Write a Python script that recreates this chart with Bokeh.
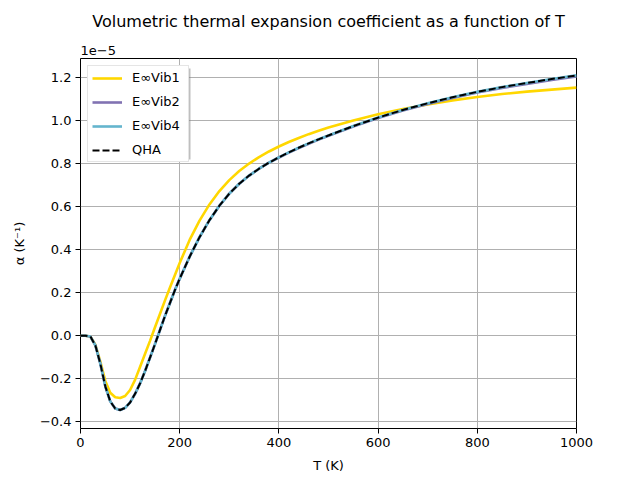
from bokeh.plotting import figure
from bokeh.models import (Range1d, FixedTicker, Legend, LegendItem, Title, BoxAnnotation)
from bokeh.embed import file_html
from bokeh.resources import INLINE

# Temperatures (K)
T = [0, 10, 20, 30, 40, 50, 60, 70, 80, 90, 100, 110, 120, 130, 140, 150,
     160, 170, 180, 190, 200, 220, 240, 260, 280, 300, 320, 340, 360, 380,
     400, 420, 440, 460, 480, 500, 550, 600, 650, 700, 750, 800, 850, 900,
     950, 1000]

# Thermal expansion coefficient values in units of 1e-5 K^-1
alpha_vib1 = [0.0, 0.0, -0.004, -0.042, -0.12, -0.21, -0.265, -0.286, -0.289,
              -0.28, -0.252, -0.205, -0.145, -0.085, -0.025, 0.038, 0.10,
              0.162, 0.222, 0.28, 0.338, 0.445, 0.535, 0.610, 0.672, 0.723,
              0.765, 0.800, 0.830, 0.856, 0.879, 0.900, 0.919, 0.9365, 0.9525,
              0.9675, 1.000, 1.029, 1.053, 1.0745, 1.0935, 1.1095, 1.123,
              1.134, 1.1435, 1.1525]

alpha_qha = [0.0, 0.0, -0.004, -0.045, -0.13, -0.235, -0.305, -0.338, -0.345,
             -0.335, -0.31, -0.27, -0.222, -0.165, -0.103, -0.04, 0.025, 0.09,
             0.15, 0.21, 0.265, 0.367, 0.458, 0.537, 0.604, 0.660, 0.706,
             0.744, 0.776, 0.804, 0.829, 0.852, 0.8735, 0.8935, 0.9125,
             0.9305, 0.974, 1.0135, 1.049, 1.080, 1.108, 1.133, 1.155,
             1.1745, 1.1925, 1.2095]

alpha_vib2 = [0.0, 0.0, -0.004, -0.045, -0.13, -0.235, -0.305, -0.338, -0.345,
              -0.335, -0.31, -0.27, -0.222, -0.165, -0.103, -0.04, 0.025, 0.09,
              0.15, 0.21, 0.265, 0.367, 0.458, 0.537, 0.604, 0.660, 0.706,
              0.744, 0.776, 0.804, 0.828, 0.851, 0.872, 0.892, 0.911,
              0.929, 0.972, 1.011, 1.046, 1.077, 1.105, 1.130, 1.151,
              1.170, 1.188, 1.205]

alpha_vib4 = [0.0, 0.0, -0.004, -0.045, -0.13, -0.235, -0.305, -0.338, -0.345,
              -0.335, -0.31, -0.27, -0.222, -0.165, -0.103, -0.04, 0.025, 0.09,
              0.15, 0.21, 0.265, 0.367, 0.458, 0.537, 0.604, 0.660, 0.706,
              0.744, 0.776, 0.804, 0.829, 0.852, 0.8735, 0.8935, 0.9125,
              0.9305, 0.974, 1.0135, 1.049, 1.080, 1.108, 1.133, 1.155,
              1.1745, 1.1925, 1.2095]

series_labels = ["E∞Vib1", "E∞Vib2", "E∞Vib4", "QHA"]
x_ticks = [0, 200, 400, 600, 800, 1000]
y_ticks = [-0.4, -0.2, 0.0, 0.2, 0.4, 0.6, 0.8, 1.0, 1.2]
y_tick_labels = ["−0.4", "−0.2", "0.0", "0.2", "0.4", "0.6", "0.8", "1.0", "1.2"]

FONT = "DejaVu Sans"
X0, X1 = 0, 1000
Y0, Y1 = -0.431, 1.288
FRAME_W, FRAME_H = 496, 370
ML, MT = 80, 58

p = figure(width=640, height=480, output_backend="svg", toolbar_location=None,
           x_range=Range1d(X0, X1), y_range=Range1d(Y0, Y1),
           min_border_left=ML, min_border_right=640 - ML - FRAME_W,
           min_border_top=MT, min_border_bottom=480 - MT - FRAME_H)

p.add_layout(Title(text="1e−5", align="left", text_font=FONT,
                   text_font_size="13px", text_font_style="normal",
                   text_color="black", standoff=8), "above")
p.add_layout(Title(text="Volumetric thermal expansion coefficient as a function of T",
                   align="center", text_font=FONT, text_font_size="16px",
                   text_font_style="normal", text_color="black", standoff=18), "above")

p.outline_line_color = "black"
p.outline_line_alpha = 1.0
p.outline_line_width = 1
p.background_fill_color = "white"
p.border_fill_color = "white"

for ax in (p.xaxis[0], p.yaxis[0]):
    ax.axis_line_color = None
    ax.major_tick_out = 5
    ax.major_tick_in = 0
    ax.major_tick_line_color = "black"
    ax.minor_tick_line_color = None
    ax.major_label_text_font = FONT
    ax.major_label_text_font_size = "13px"
    ax.major_label_text_color = "black"
    ax.axis_label_text_font = FONT
    ax.axis_label_text_font_size = "13px"
    ax.axis_label_text_font_style = "normal"
    ax.axis_label_text_color = "black"
    ax.major_label_standoff = 4

p.xaxis[0].ticker = FixedTicker(ticks=x_ticks)
p.yaxis[0].ticker = FixedTicker(ticks=y_ticks)
p.yaxis[0].major_label_overrides = {t: l for t, l in zip(y_ticks, y_tick_labels)}
p.xaxis[0].axis_label = "T (K)"
p.yaxis[0].axis_label = "α (K⁻¹)"
p.xaxis[0].axis_label_standoff = 8
p.yaxis[0].axis_label_standoff = 10

p.grid.grid_line_color = "#b0b0b0"
p.grid.grid_line_width = 1

r1 = p.line(T, alpha_vib1, line_color="#FFD700", line_width=2.6)
r2 = p.line(T, alpha_vib2, line_color="#8172B2", line_width=2.6)
r3 = p.line(T, alpha_vib4, line_color="#64B5CD", line_width=2.6)
r4 = p.line(T, alpha_qha, line_color="black", line_width=2, line_dash="7 3")

# legend geometry
LEG_MARGIN, LEG_PAD, LEG_SPACING, LEG_ROW = 7, 4, 9, 14
LEG_GLYPH_W, LEG_STANDOFF, LEG_LABEL_W = 30, 10, 52
leg_w = 2 * LEG_PAD + LEG_GLYPH_W + LEG_STANDOFF + LEG_LABEL_W
leg_h = 2 * LEG_PAD + 4 * LEG_ROW + 3 * LEG_SPACING

# legend drop shadow (decoration), placed in pixel terms relative to frame
sx_per_px = (X1 - X0) / FRAME_W
sy_per_px = (Y1 - Y0) / FRAME_H
def px_x(px):
    return X0 + px * sx_per_px
def px_y(py):
    return Y1 - py * sy_per_px
SH = 3
shadow = BoxAnnotation(left=px_x(LEG_MARGIN + SH), right=px_x(LEG_MARGIN + leg_w + SH),
                       top=px_y(LEG_MARGIN + SH), bottom=px_y(LEG_MARGIN + leg_h + SH),
                       fill_color="#808080", fill_alpha=0.5, line_color=None)
p.add_layout(shadow)

legend = Legend(items=[LegendItem(label=l, renderers=[r])
                       for l, r in zip(series_labels, [r1, r2, r3, r4])],
                location="top_left")
legend.margin = LEG_MARGIN
legend.padding = LEG_PAD
legend.spacing = LEG_SPACING
legend.label_height = LEG_ROW
legend.glyph_height = LEG_ROW
legend.glyph_width = LEG_GLYPH_W
legend.label_width = LEG_LABEL_W
legend.label_standoff = LEG_STANDOFF
legend.label_text_font = FONT
legend.label_text_font_size = "13px"
legend.label_text_color = "black"
legend.border_line_color = "#cccccc"
legend.border_line_width = 1
legend.background_fill_alpha = 1.0
p.add_layout(legend, "center")

open("out.html", "w").write(file_html(p, INLINE))
